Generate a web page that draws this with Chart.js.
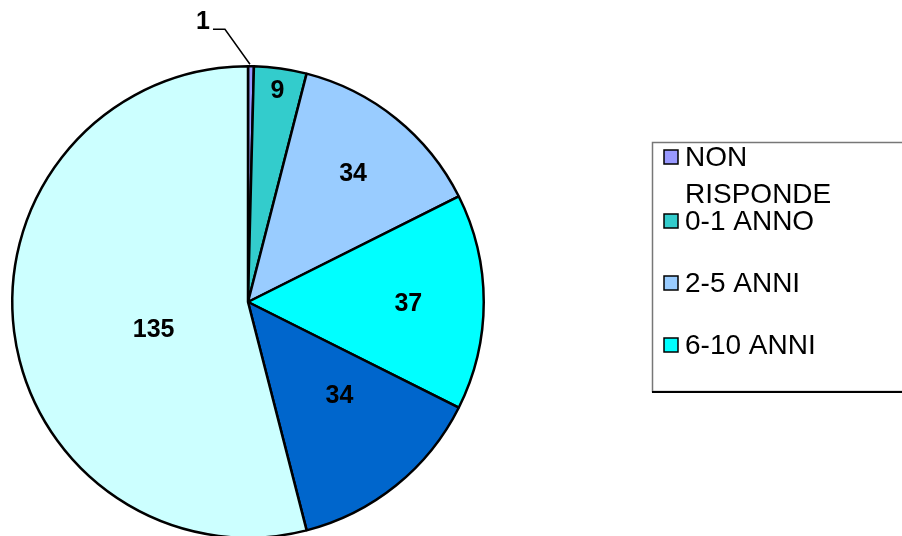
<!DOCTYPE html>
<html lang="it">
<head>
  <meta charset="UTF-8" />
  <title>Anni di servizio</title>
  <script src="https://cdn.jsdelivr.net/npm/chart.js"></script>
  <style>
    html, body { margin: 0; padding: 0; background: #fff; }
    #wrap { width: 902px; height: 536px; overflow: hidden; position: relative; }
  </style>
</head>
<body>
  <div id="wrap">
    <canvas id="graficoTorta" width="902" height="560"></canvas>
  </div>

  <script>
    // dati
    const categorie = ['NON RISPONDE', '0-1 ANNO', '2-5 ANNI', '6-10 ANNI', '11-20 ANNI', 'OLTRE 20 ANNI'];
    const valori = [1, 9, 34, 37, 34, 135];
    const colori = ['#9999FF', '#33CCCC', '#99CCFF', '#00FFFF', '#0066CC', '#CCFFFF'];

    // stile etichette: distanza dal centro (frazione del raggio) e spostamento angolare (gradi)
    const distEtichetta = [1, 0.91, 0.71, 0.68, 0.55, 0.415];
    const ruotaEtichetta = [0, 0, 0, 0, -6, -8];
    const voceLegendaY = [157, 221, 283, 345];

    const etichetteValori = {
      id: 'etichetteValori',
      afterDatasetsDraw(chart) {
        const ctx = chart.ctx;
        const arcs = chart.getDatasetMeta(0).data;
        ctx.save();
        ctx.font = 'bold 25px "Liberation Sans", Arial, sans-serif';
        ctx.fillStyle = '#000';
        ctx.textBaseline = 'middle';
        arcs.forEach((arc, i) => {
          const mid = (arc.startAngle + arc.endAngle) / 2 + ruotaEtichetta[i] * Math.PI / 180;
          const R = arc.outerRadius;
          if (i === 0) {
            // valore piccolo: etichetta fuori con linea guida
            const px = arc.x + Math.cos(mid) * R;
            const py = arc.y + Math.sin(mid) * R;
            ctx.strokeStyle = '#000';
            ctx.lineWidth = 1.5;
            ctx.beginPath();
            ctx.moveTo(px - 1, py - 2);
            ctx.lineTo(px - 26, py - 37);
            ctx.lineTo(px - 38, py - 37);
            ctx.stroke();
            ctx.textAlign = 'right';
            ctx.fillText(String(valori[i]), px - 41, py - 44);
            return;
          }
          const r = R * distEtichetta[i];
          ctx.textAlign = 'center';
          ctx.fillText(String(valori[i]), arc.x + Math.cos(mid) * r, arc.y + Math.sin(mid) * r + 2);
        });
        ctx.restore();
      }
    };

    const legendaBox = {
      id: 'legendaBox',
      afterDraw(chart) {
        const ctx = chart.ctx;
        ctx.save();
        // cornice
        ctx.fillStyle = '#fff';
        ctx.fillRect(652, 142, 260, 250);
        ctx.strokeStyle = '#777';
        ctx.lineWidth = 1.5;
        ctx.strokeRect(652.5, 142.5, 270, 249);
        ctx.strokeStyle = '#000';
        ctx.lineWidth = 2;
        ctx.beginPath();
        ctx.moveTo(652, 392);
        ctx.lineTo(902, 392);
        ctx.stroke();

        ctx.font = '28px "Liberation Sans", Arial, sans-serif';
        ctx.textBaseline = 'middle';
        ctx.textAlign = 'left';
        voceLegendaY.forEach((y, i) => {
          ctx.fillStyle = colori[i];
          ctx.fillRect(664, y - 7, 14, 14);
          ctx.strokeStyle = '#000';
          ctx.lineWidth = 1.5;
          ctx.strokeRect(664, y - 7, 14, 14);
          ctx.fillStyle = '#000';
          // a capo se troppo lungo
          const parole = categorie[i].split(' ');
          let riga = '', righe = [];
          parole.forEach(p => {
            const prova = riga ? riga + ' ' + p : p;
            if (ctx.measureText(prova).width > 180 && riga) { righe.push(riga); riga = p; }
            else riga = prova;
          });
          righe.push(riga);
          righe.forEach((t, k) => ctx.fillText(t, 685, y + 1 + k * 37));
        });
        ctx.restore();
      }
    };

    new Chart(document.getElementById('graficoTorta'), {
      type: 'pie',
      data: {
        labels: categorie,
        datasets: [{
          data: valori,
          backgroundColor: colori,
          borderColor: '#000',
          borderWidth: 2.5
        }]
      },
      options: {
        responsive: false,
        animation: false,
        layout: { padding: { left: 11, top: 65, right: 417, bottom: 21 } },
        plugins: { legend: { display: false }, tooltip: { enabled: false } }
      },
      plugins: [etichetteValori, legendaBox]
    });
  </script>
</body>
</html>
